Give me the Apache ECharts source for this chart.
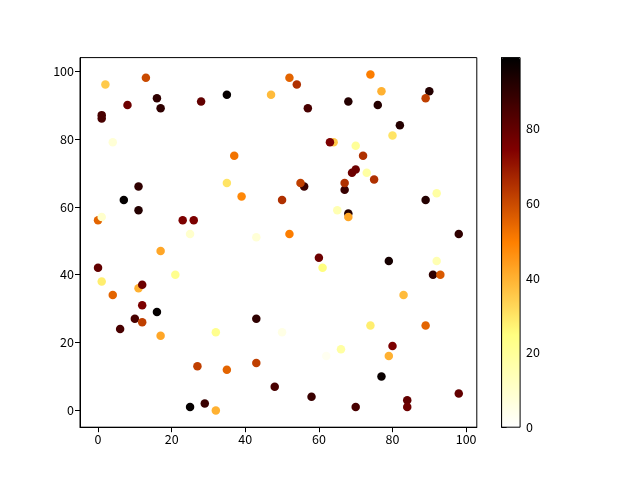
<!DOCTYPE html>
<html>
<head>
<meta charset="utf-8">
<script src="https://cdn.jsdelivr.net/npm/echarts@6/dist/echarts.min.js"></script>
<style>html,body{margin:0;padding:0;background:#fff}#c{width:640px;height:480px}</style>
</head>
<body>
<div id="c"></div>
<script>
const xs = [2,13,1,1,8,16,17,28,35,4,37,35,39,7,11,11,0,1,23,26,25,43,52,54,47,74,77,90,89,57,68,76,82,80,64,63,70,72,70,69,73,75,56,55,67,67,50,89,92,65,68,68,98,52,17,0,21,1,11,12,4,12,16,10,12,6,17,32,43,27,35,43,48,25,29,32,60,61,79,92,91,93,83,50,74,89,80,79,66,62,77,58,70,84,84,98];
const ys = [96,98,87,86,90,92,89,91,93,79,75,67,63,62,59,66,56,57,56,56,52,51,98,96,93,99,94,94,92,89,91,90,84,81,79,79,78,75,71,70,70,68,66,67,65,67,62,62,64,59,58,57,52,52,47,42,40,38,36,37,34,31,29,27,26,24,22,23,27,13,12,14,7,1,2,0,45,42,44,44,40,40,34,23,25,25,19,16,18,16,10,4,1,3,1,5];
const cs = [35,60,85,85,78,90,90,80,98,8,52,30,48,98,92,90,55,10,75,75,10,8,55,65,38,50,40,92,62,85,92,92,92,30,35,75,20,65,78,78,18,65,88,62,88,65,65,92,18,15,92,42,90,50,42,80,22,28,40,78,55,75,98,85,62,85,42,22,90,62,55,62,85,98,88,40,78,25,95,15,90,57,38,5,28,55,75,40,18,3,97,88,85,80,78,80];
const xTicks = [0,20,40,60,80,100];
const yTicks = [0,20,40,60,80,100];
const cbTicks = [0,20,40,60,80];
const cMin = 0, cMax = 99;

const data = xs.map((x,i)=>[x, ys[i], cs[i]]);
const font = '"Noto Sans CJK SC", "DejaVu Sans", sans-serif';
const lbl = {color:'#000', fontSize:12.5, fontFamily:font};

const chart = echarts.init(document.getElementById('c'), null, {renderer:'canvas'});
chart.setOption({
  animation:false,
  backgroundColor:'#fff',
  grid:[
    {left:80, top:57.6, width:396.8, height:369.6, show:true, borderColor:'#000', borderWidth:1, backgroundColor:'transparent'},
    {left:501.6, top:57.6, width:18.5, height:369.6, show:true, borderColor:'#000', borderWidth:1, backgroundColor:'transparent', z:10}
  ],
  xAxis:[
    {type:'value', gridIndex:0, min:-4.9, max:102.9, splitLine:{show:false},
     axisLine:{onZero:false, lineStyle:{color:'#000'}},
     axisTick:{customValues:xTicks, length:5, lineStyle:{color:'#000'}},
     axisLabel:Object.assign({customValues:xTicks, margin:6}, lbl)},
    {type:'value', gridIndex:1, show:false, min:0, max:1}
  ],
  yAxis:[
    {type:'value', gridIndex:0, min:-4.95, max:103.95, splitLine:{show:false},
     axisLine:{onZero:false, lineStyle:{color:'#000'}},
     axisTick:{customValues:yTicks, length:5, lineStyle:{color:'#000'}},
     axisLabel:Object.assign({customValues:yTicks, margin:6}, lbl)},
    {type:'value', gridIndex:1, position:'right', min:cMin, max:cMax, splitLine:{show:false},
     axisLine:{show:true, lineStyle:{color:'#000'}},
     axisTick:{customValues:cbTicks, length:5, lineStyle:{color:'#000'}},
     axisLabel:Object.assign({customValues:cbTicks, margin:6}, lbl)}
  ],
  visualMap:{
    type:'continuous', seriesIndex:0, dimension:2, min:cMin, max:cMax,
    left:501.6, top:57.6, itemWidth:18.5, itemHeight:369.6, padding:0,
    calculable:false, text:null, showLabel:false, hoverLink:false,
    inRange:{color:['#ffffff','#ffff80','#ff8000','#800000','#000000']}
  },
  series:[{
    type:'scatter', xAxisIndex:0, yAxisIndex:0, data:data,
    symbolSize:8.5, itemStyle:{opacity:1}
  }]
});
</script>
</body>
</html>
